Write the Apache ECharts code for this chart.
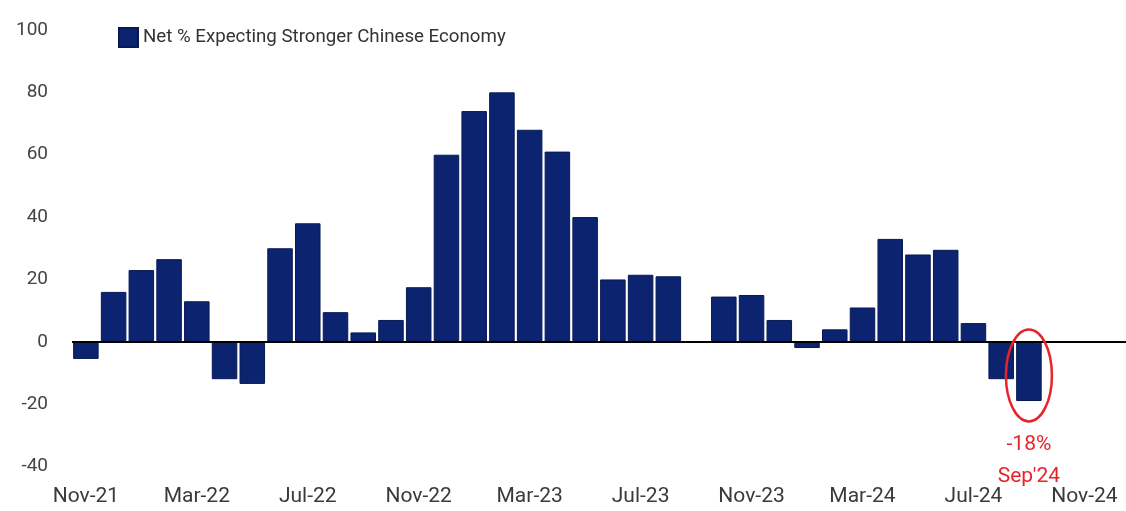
<!DOCTYPE html>
<html><head><meta charset="utf-8">
<script src="https://cdn.jsdelivr.net/npm/echarts@6/dist/echarts.min.js"></script>
<style>html,body{margin:0;padding:0;background:#fff}#c{width:1126px;height:511px}</style>
</head><body><div id="c"></div>
<script>
const categories = ['Nov-21','Dec-21','Jan-22','Feb-22','Mar-22','Apr-22','May-22','Jun-22','Jul-22','Aug-22','Sep-22','Oct-22',
  'Nov-22','Dec-22','Jan-23','Feb-23','Mar-23','Apr-23','May-23','Jun-23','Jul-23','Aug-23','Sep-23','Oct-23',
  'Nov-23','Dec-23','Jan-24','Feb-24','Mar-24','Apr-24','May-24','Jun-24','Jul-24','Aug-24','Sep-24','Oct-24','Nov-24','Dec-24'];
const netValues = [-5.5,16,23,26.5,13,-12,-13.5,30,38,9.5,3,7,
  17.5,60,74,80,68,61,40,20,21.5,21,null,14.5,
  15,7,-2,4,11,33,28,29.5,6,-12,-19,null,null,null];
const seriesName = 'Net % Expecting Stronger Chinese Economy';
const yTicks = {min:-40, max:100, interval:20};
const annotation = {category:'Sep-24', value:-19, lines:['-18%', "Sep'24"]};

const FONT = 'Roboto, "Liberation Sans", sans-serif';
const chart = echarts.init(document.getElementById('c'));
chart.setOption({
  animation:false,
  grid:{left:72, right:0, top:30, bottom:44.5},
  legend:{data:[seriesName], left:113, top:22, icon:'rect', itemWidth:19, itemHeight:19, itemGap:3,
    textStyle:{fontFamily:FONT, fontSize:18.7, color:'#333'}},
  xAxis:{type:'category', data:categories, boundaryGap:true,
    axisLine:{show:false, onZero:false}, axisTick:{show:false},
    axisLabel:{interval:3, margin:20, fontFamily:FONT, fontSize:21, color:'#3a3a3a'}},
  yAxis:{type:'value', min:yTicks.min, max:yTicks.max, interval:yTicks.interval,
    splitLine:{show:false}, axisLine:{show:false}, axisTick:{show:false},
    axisLabel:{margin:24, fontFamily:FONT, fontSize:19, color:'#444'}},
  series:[{name:seriesName, type:'bar', data:netValues, barWidth:'92%',
    itemStyle:{color:'#0c2470', borderColor:'#081a55', borderWidth:1},
    markLine:{silent:true, symbol:'none', label:{show:false},
      lineStyle:{color:'#000', width:2, type:'solid'}, data:[{yAxis:0}]}
  }]
});
const p = chart.convertToPixel({seriesIndex:0}, [annotation.category, annotation.value]);
const z = chart.convertToPixel({seriesIndex:0}, [annotation.category, 0]);
const cy = (p[1] + z[1]) / 2;
chart.setOption({graphic:[
  {type:'ellipse', shape:{cx:p[0], cy:cy+4, rx:23, ry:46}, style:{fill:'none', stroke:'#e8232a', lineWidth:2.5}, z:100},
  {type:'text', x:p[0], y:p[1]+44, style:{text:annotation.lines[0], fill:'#e8232a', font:'21px '+FONT, textAlign:'center', textVerticalAlign:'middle'}, z:100},
  {type:'text', x:p[0], y:p[1]+76, style:{text:annotation.lines[1], fill:'#e8232a', font:'21px '+FONT, textAlign:'center', textVerticalAlign:'middle'}, z:100}
]});
</script></body></html>
